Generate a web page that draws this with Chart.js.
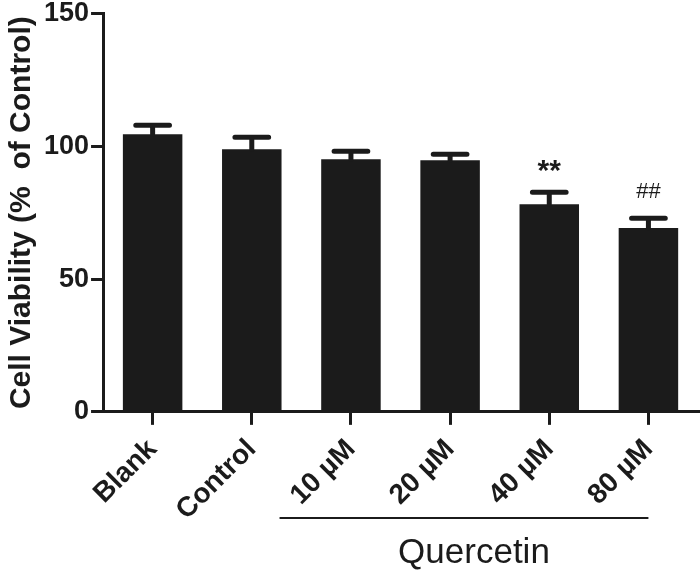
<!DOCTYPE html>
<html>
<head>
<meta charset="utf-8">
<script src="https://cdn.jsdelivr.net/npm/chart.js@4.4.0/dist/chart.umd.min.js"></script>
<style>
  html, body { margin: 0; padding: 0; background: #fff; }
  #wrap { width: 700px; height: 570px; }
</style>
</head>
<body>
<div id="wrap"><canvas id="chart" width="700" height="570"></canvas></div>
<script>
// values (mean, upper SEM)
const groups = ['Blank', 'Control', '10 µM', '20 µM', '40 µM', '80 µM'];
const viability = [104.5, 98.9, 95.1, 94.7, 78.2, 69.2];
const sem = [3.4, 4.5, 3.0, 2.3, 4.5, 3.7];
const marks = ['', '', '', '', '**', '##'];
const yTicks = [0, 50, 100, 150];
const treatment = 'Quercetin';
const treatedGroups = ['10 µM', '20 µM', '40 µM', '80 µM'];

const INK = '#1b1b1b';
const FONT = "'Liberation Sans', Arial, sans-serif";

// error bars, significance marks and the treatment bracket
const extras = {
  id: 'extras',
  afterDatasetsDraw(chart) {
    const { ctx, scales: { x, y } } = chart;
    const step = x.getPixelForValue(1) - x.getPixelForValue(0);
    ctx.save();
    ctx.strokeStyle = INK;
    ctx.fillStyle = INK;
    ctx.lineCap = 'round';
    ctx.lineWidth = 5;
    viability.forEach((v, i) => {
      const cx = x.getPixelForValue(i);
      const yTop = y.getPixelForValue(v + sem[i]);
      const yBar = y.getPixelForValue(v);
      ctx.beginPath();
      ctx.moveTo(cx, yBar);
      ctx.lineTo(cx, yTop);
      ctx.moveTo(cx - step * 0.17, yTop);
      ctx.lineTo(cx + step * 0.17, yTop);
      ctx.stroke();
      if (marks[i]) {
        const star = marks[i] === '**';
        ctx.font = (star ? 'bold 30px ' : '22px ') + FONT;
        ctx.textAlign = 'center';
        ctx.textBaseline = 'alphabetic';
        ctx.fillText(marks[i], cx, yTop - (star ? 12 : 20));
      }
    });
    // bracket under the treated groups
    const i0 = groups.indexOf(treatedGroups[0]);
    const i1 = groups.indexOf(treatedGroups[treatedGroups.length - 1]);
    const lx0 = x.getPixelForValue(i0) - step * 0.72;
    const lx1 = x.getPixelForValue(i1);
    const ly = 518;
    ctx.lineCap = 'butt';
    ctx.lineWidth = 2;
    ctx.beginPath();
    ctx.moveTo(lx0, ly);
    ctx.lineTo(lx1, ly);
    ctx.stroke();
    ctx.font = '35px ' + FONT;
    ctx.textAlign = 'center';
    ctx.textBaseline = 'alphabetic';
    ctx.fillText(treatment, (lx0 + lx1) / 2 + 10, 563);
    ctx.restore();
  }
};

new Chart(document.getElementById('chart'), {
  type: 'bar',
  data: {
    labels: groups,
    datasets: [{
      data: viability,
      backgroundColor: INK,
      borderWidth: 0,
      barPercentage: 0.6,
      categoryPercentage: 1.0
    }]
  },
  options: {
    responsive: false,
    devicePixelRatio: 1,
    animation: false,
    layout: { padding: { top: 0, right: 2, bottom: 35, left: 4 } },
    plugins: { legend: { display: false }, tooltip: { enabled: false } },
    scales: {
      x: {
        offset: true,
        grid: { display: true, offset: false, drawOnChartArea: false, drawTicks: true, tickLength: 13, lineWidth: 3, color: INK },
        border: { display: true, width: 3, color: INK },
        ticks: { color: INK, font: { family: FONT, size: 28, weight: 'bold' }, minRotation: 45, maxRotation: 45, padding: 8 }
      },
      y: {
        min: 0, max: 150,
        afterBuildTicks: axis => { axis.ticks = yTicks.map(v => ({ value: v })); },
        grid: { display: true, drawOnChartArea: false, drawTicks: true, tickLength: 12, lineWidth: 3, color: INK },
        border: { display: true, width: 3, color: INK },
        ticks: { color: INK, font: { family: FONT, size: 27, weight: 'bold', lineHeight: 0.85 }, padding: 2 },
        title: { display: true, text: 'Cell Viability (%  of Control)', color: INK, font: { family: FONT, size: 30, weight: 'bold' }, padding: { top: 0, bottom: 2 } }
      }
    }
  },
  plugins: [extras]
});
</script>
</body>
</html>
